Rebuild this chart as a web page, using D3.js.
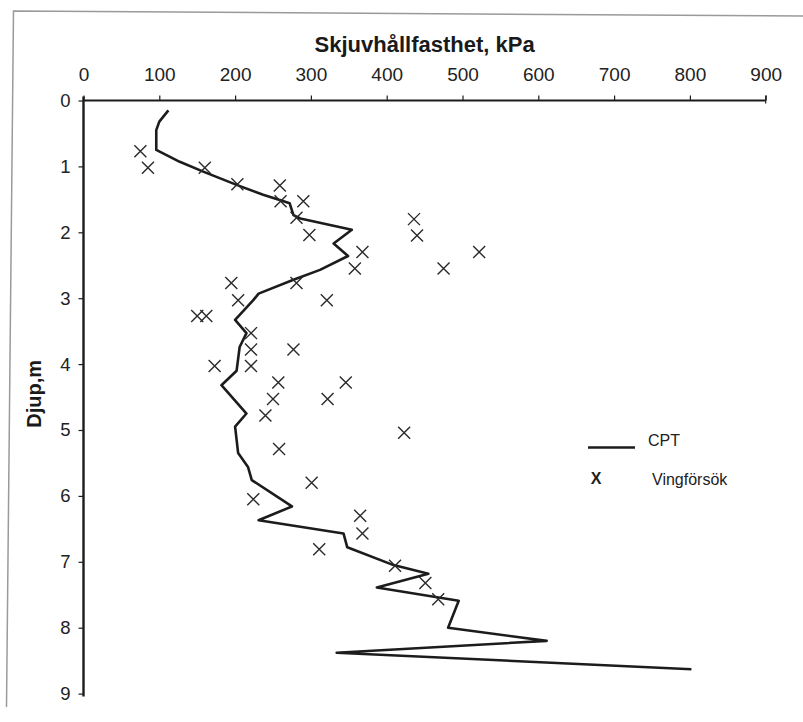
<!DOCTYPE html>
<html>
<head>
<meta charset="utf-8">
<script src="https://cdn.jsdelivr.net/npm/d3@7"></script>
<style>
  html, body { margin: 0; padding: 0; background: #ffffff; }
  svg { display: block; font-family: "Liberation Sans", Arial, sans-serif; }
</style>
</head>
<body>
<svg id="chart" width="803" height="722"></svg>
<script>
// Axis ticks
const kpaTicks = [0, 100, 200, 300, 400, 500, 600, 700, 800, 900];
const depthTicks = [0, 1, 2, 3, 4, 5, 6, 7, 8, 9];

// CPT profile: shear strength (kPa) against depth (m)
const cptStrength = [112, 100, 96, 96, 127, 158, 202, 237, 264, 272, 277, 286, 354, 330, 349, 312, 277, 231, 224, 200, 215, 206, 202, 182, 215, 200, 204, 217, 222, 275, 231, 343, 348, 409, 455, 387, 495, 481, 611, 334, 802];
const cptDepth    = [0.15, 0.32, 0.45, 0.75, 0.93, 1.08, 1.28, 1.43, 1.53, 1.56, 1.74, 1.79, 1.96, 2.17, 2.36, 2.57, 2.72, 2.93, 3.03, 3.33, 3.53, 3.74, 4.10, 4.32, 4.75, 4.95, 5.35, 5.56, 5.76, 6.16, 6.37, 6.57, 6.78, 7.05, 7.18, 7.39, 7.59, 8.00, 8.20, 8.38, 8.63];

// Vane tests (Vingförsök): shear strength (kPa) against depth (m)
const vaneStrength = [75, 85, 160, 203, 259, 260, 290, 281, 436, 298, 440, 368, 522, 358, 475, 195, 281, 204, 321, 150, 162, 221, 221, 277, 173, 221, 257, 346, 250, 322, 240, 423, 258, 301, 224, 365, 368, 311, 411, 451, 468];
const vaneDepth    = [0.77, 1.02, 1.02, 1.27, 1.29, 1.53, 1.53, 1.78, 1.80, 2.04, 2.05, 2.30, 2.30, 2.55, 2.55, 2.77, 2.77, 3.03, 3.03, 3.27, 3.27, 3.53, 3.78, 3.78, 4.03, 4.03, 4.28, 4.28, 4.53, 4.53, 4.78, 5.04, 5.29, 5.80, 6.05, 6.30, 6.57, 6.81, 7.06, 7.32, 7.57];

const xTitle = "Skjuvhållfasthet, kPa";
const yTitle = "Djup,m";
const legendLabels = ["CPT", "Vingförsök"];

const svg = d3.select("#chart");
const ink = "#1c1c1c";

// Scanned-page border
svg.append("path")
  .attr("d", "M803,16 L13.5,11 L6.5,707")
  .attr("fill", "none")
  .attr("stroke", "#9a9a9a")
  .attr("stroke-width", 1.5);

const x = d3.scaleLinear().domain([0, 900]).range([83.5, 765.7]);
const y = d3.scaleLinear().domain([0, 9]).range([100.5, 693.6]);

// Top axis (shear strength)
const xAxis = svg.append("g")
  .attr("transform", `translate(0,${y(0)})`)
  .call(d3.axisTop(x).tickValues(kpaTicks).tickSize(5).tickSizeOuter(0).tickPadding(15));
xAxis.select(".domain").remove();
xAxis.selectAll(".tick line").attr("stroke", ink).attr("stroke-width", 1.2);
xAxis.selectAll(".tick text").attr("font-size", 19).attr("fill", "#222")
  .attr("font-family", "'Liberation Sans', Arial, sans-serif");

// Left axis (depth)
const yAxis = svg.append("g")
  .attr("transform", `translate(${x(0)},0)`)
  .call(d3.axisLeft(y).tickValues(depthTicks).tickSize(5).tickSizeOuter(0).tickPadding(8));
yAxis.select(".domain").remove();
yAxis.selectAll(".tick line").attr("stroke", ink).attr("stroke-width", 1.2);
yAxis.selectAll(".tick text").attr("font-size", 18.5).attr("fill", "#222")
  .attr("font-family", "'Liberation Sans', Arial, sans-serif");

// Axis lines
svg.append("line")
  .attr("x1", x(0)).attr("x2", x(900)).attr("y1", y(0)).attr("y2", y(0))
  .attr("stroke", ink).attr("stroke-width", 2.2);
svg.append("line")
  .attr("x1", x(900)).attr("x2", x(900)).attr("y1", y(0) - 5).attr("y2", y(0) + 3)
  .attr("stroke", ink).attr("stroke-width", 1.2);
svg.append("line")
  .attr("x1", x(0)).attr("x2", x(0)).attr("y1", y(0) - 4).attr("y2", y(9) + 3)
  .attr("stroke", ink).attr("stroke-width", 2.4);

// Axis titles
svg.append("text")
  .attr("x", x(450)).attr("y", 52)
  .attr("text-anchor", "middle")
  .attr("font-size", 22).attr("font-weight", "bold").attr("fill", "#1a1a1a")
  .text(xTitle);

svg.append("text")
  .attr("transform", `translate(41,${y(4.45)}) rotate(-90)`)
  .attr("text-anchor", "middle")
  .attr("font-size", 20).attr("font-weight", "bold").attr("fill", "#1a1a1a")
  .text(yTitle);

// CPT line
const cpt = cptStrength.map((v, i) => [v, cptDepth[i]]);
svg.append("path")
  .datum(cpt)
  .attr("fill", "none")
  .attr("stroke", ink)
  .attr("stroke-width", 2.6)
  .attr("stroke-linejoin", "round")
  .attr("d", d3.line().x(d => x(d[0])).y(d => y(d[1])));

// Vane test markers
const vane = vaneStrength.map((v, i) => [v, vaneDepth[i]]);
const r = 6;
svg.append("g").selectAll("path")
  .data(vane)
  .join("path")
  .attr("d", d => {
    const cx = x(d[0]), cy = y(d[1]);
    return `M${cx - r},${cy - r}L${cx + r},${cy + r}M${cx - r},${cy + r}L${cx + r},${cy - r}`;
  })
  .attr("stroke", "#2a2a2a")
  .attr("stroke-width", 1.4)
  .attr("fill", "none");

// Legend
const legend = svg.append("g");
legend.append("line")
  .attr("x1", 588).attr("x2", 635).attr("y1", 447.5).attr("y2", 447.5)
  .attr("stroke", ink).attr("stroke-width", 2.6);
legend.append("text")
  .attr("x", 648).attr("y", 446)
  .attr("font-size", 16).attr("fill", "#222")
  .text(legendLabels[0]);
legend.append("text")
  .attr("x", 596).attr("y", 484)
  .attr("text-anchor", "middle")
  .attr("font-size", 16).attr("font-weight", "bold").attr("fill", "#222")
  .text("X");
legend.append("text")
  .attr("x", 652).attr("y", 485)
  .attr("font-size", 16).attr("fill", "#222")
  .text(legendLabels[1]);
</script>
</body>
</html>
